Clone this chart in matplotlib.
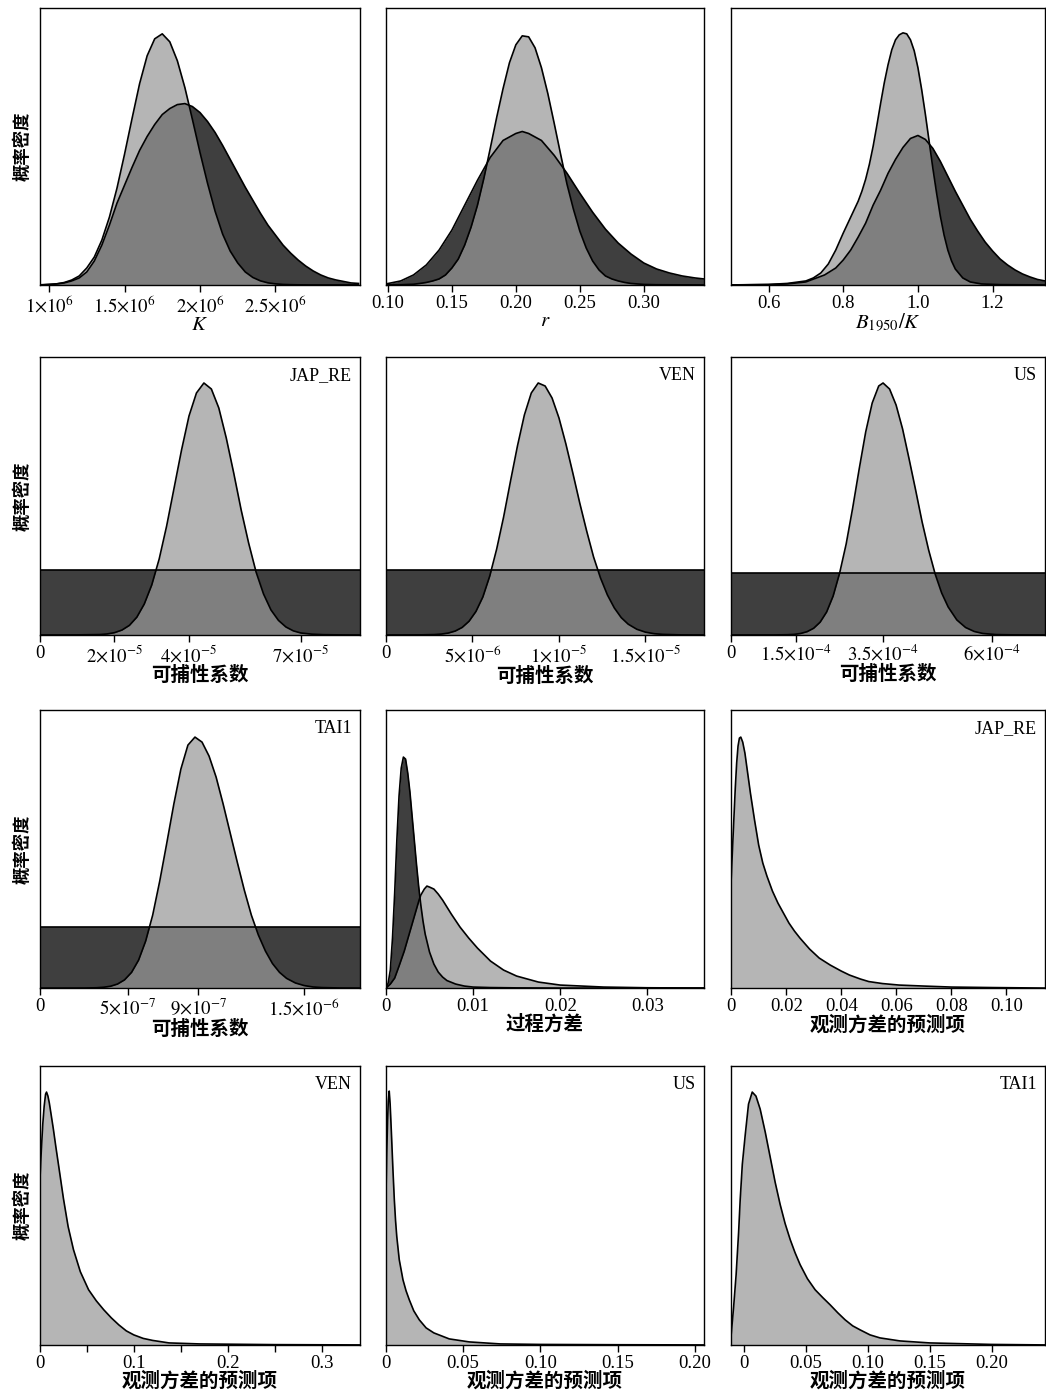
import numpy as np
import matplotlib.pyplot as plt

plt.rcParams['font.family'] = ['Liberation Serif', 'Noto Sans CJK SC']
plt.rcParams['mathtext.fontset'] = 'stix'

CJK = ['Noto Sans CJK SC', 'DejaVu Sans']
DARK = '#3f3f3f'
LIGHT = '#999999'

# relative density (same arbitrary unit in every panel)
# ---- row 1: K (x in 1e6), r, B1950/K
k_x = [0.95, 1.0, 1.05, 1.1, 1.15, 1.2, 1.25, 1.3, 1.35, 1.4, 1.45, 1.5, 1.55,
       1.6, 1.65, 1.7, 1.75, 1.8, 1.85, 1.9, 1.95, 2.0, 2.05, 2.1, 2.15, 2.2,
       2.25, 2.3, 2.35, 2.4, 2.45, 2.5, 2.55, 2.6, 2.65, 2.7, 2.75, 2.8, 2.85,
       2.9, 2.95, 3.0, 3.05]
k_post = [0.2, 0.5, 1.1, 2.4, 4.9, 9, 17, 28, 45, 68, 97, 131, 167,
          202, 230, 247, 252, 244, 225, 198, 166, 133, 102, 74, 51, 34,
          22, 13, 7.5, 4.1, 2.1, 1.1, 0.5, 0.25, 0.1, 0.05, 0, 0, 0,
          0, 0, 0, 0]
k_prior = [0, 0.5, 1, 2, 4, 7, 13, 24, 40, 60, 82, 100, 118,
           135, 149, 161, 171, 177, 181, 182, 179, 173, 164, 153, 140, 126,
           112, 98, 85, 72, 60, 50, 40, 32, 25, 19, 14, 10, 7,
           5, 3.5, 2, 1.5]

r_x = [0.0985, 0.11, 0.12, 0.125, 0.13, 0.135, 0.14, 0.145, 0.15, 0.155, 0.16,
       0.165, 0.17, 0.175, 0.18, 0.185, 0.19, 0.195, 0.20, 0.205, 0.21, 0.215,
       0.22, 0.225, 0.23, 0.235, 0.24, 0.245, 0.25, 0.255, 0.26, 0.265, 0.27,
       0.275, 0.28, 0.285, 0.29, 0.295, 0.30, 0.31, 0.347]
r_post = [0, 0.2, 0.7, 1.5, 2.5, 4, 6, 10, 17, 26, 40,
          58, 80, 107, 137, 168, 197, 223, 241, 250, 249, 238,
          218, 192, 162, 131, 101, 76, 54, 37, 24, 15, 9,
          6, 4, 2.5, 1.5, 1, 0.5, 0.2, 0]
r_prior_x = [0.0985, 0.11, 0.12, 0.13, 0.14, 0.15, 0.16, 0.17, 0.18, 0.19, 0.20,
             0.205, 0.21, 0.22, 0.23, 0.24, 0.25, 0.26, 0.27, 0.28, 0.29, 0.30,
             0.31, 0.32, 0.33, 0.34, 0.347]
r_prior = [1, 4, 10, 20, 35, 55, 80, 105, 128, 145, 152,
           154, 152, 145, 130, 112, 92, 73, 56, 42, 31, 22,
           16, 12, 9, 7, 6]

b_x = [0.5, 0.6, 0.65, 0.70, 0.72, 0.74, 0.76, 0.78, 0.80,
       0.81, 0.82, 0.83, 0.84, 0.85, 0.86, 0.87, 0.88, 0.89, 0.90,
       0.91, 0.92, 0.93, 0.94, 0.95, 0.96, 0.97, 0.98, 0.99, 1.00,
       1.01, 1.02, 1.03, 1.04, 1.05, 1.06, 1.07, 1.08, 1.09, 1.10,
       1.12, 1.14, 1.17, 1.22, 1.34]
b_post = [0, 0.5, 1.5, 4, 7, 12, 21, 35, 52,
          60, 68, 76, 84, 94, 106, 121, 139, 160, 182,
          203, 221, 236, 246, 251, 253, 252, 246, 235, 218,
          196, 171, 144, 117, 92, 69, 50, 35, 24, 16,
          7, 3, 1, 0.3, 0]
b_prior_x = [0.5, 0.6, 0.65, 0.7, 0.75, 0.78, 0.80, 0.82, 0.84, 0.86, 0.88, 0.90,
             0.92, 0.94, 0.96, 0.98, 1.00, 1.02, 1.04, 1.06, 1.08, 1.10, 1.12,
             1.14, 1.16, 1.18, 1.20, 1.22, 1.24, 1.26, 1.28, 1.30, 1.32, 1.34]
b_prior = [0, 0.3, 1, 3, 10, 17, 25, 35, 48, 62, 80, 95,
           112, 126, 138, 147, 150, 146, 137, 124, 109, 94, 80,
           66, 54, 43, 34, 26, 20, 15, 11, 8, 5.5, 4]

# ---- catchability: posterior + flat (uniform) prior level
qjap_x = [0, 1.0, 1.6, 1.8, 2.0, 2.2, 2.4, 2.6, 2.8, 3.0, 3.2, 3.4, 3.6, 3.8,
          4.0, 4.2, 4.4, 4.6, 4.8, 5.0, 5.2, 5.4, 5.6, 5.8, 6.0, 6.2, 6.4,
          6.6, 6.8, 7.0, 7.3, 7.6, 8.0, 8.59]                       # 1e-5
qjap_post = [0, 0.1, 0.4, 1, 2.3, 4.9, 9.6, 17.8, 31, 50, 76, 109, 147, 185,
             219, 242, 252, 246, 227, 197, 162, 125, 92, 63, 41, 25, 14.6,
             8, 4.1, 2, 0.8, 0.3, 0.1, 0]
qjap_prior = 65

qven_x = [0, 2.0, 2.8, 3.2, 3.6, 4.0, 4.4, 4.8, 5.2, 5.6, 6.0, 6.4, 6.8, 7.2,
          7.6, 8.0, 8.4, 8.8, 9.2, 9.6, 10.0, 10.4, 10.8, 11.2, 11.6, 12.0,
          12.4, 12.8, 13.2, 13.6, 14.0, 14.5, 15.0, 15.5, 16.0, 17.0, 18.38]  # 1e-6
qven_post = [0, 0.1, 0.4, 0.9, 1.9, 3.9, 7.5, 13.7, 23.5, 38, 59, 86, 118, 154,
             189, 220, 242, 252, 249, 237, 217, 191, 162, 132, 104, 78,
             57, 40, 27, 17.3, 10.8, 5.7, 2.8, 1.3, 0.6, 0.1, 0]
qven_prior = 65

qus_x = [0, 1.0, 1.3, 1.45, 1.6, 1.75, 1.9, 2.05, 2.2, 2.35, 2.5, 2.65, 2.8,
         2.95, 3.1, 3.25, 3.4, 3.5, 3.65, 3.8, 3.95, 4.1, 4.25, 4.4, 4.55,
         4.7, 4.85, 5.0, 5.2, 5.4, 5.6, 5.8, 6.1, 6.5, 7.23]           # 1e-4
qus_post = [0, 0.05, 0.25, 0.6, 1.5, 3.3, 6.7, 12.8, 23, 39, 62, 91, 127,
            166, 203, 232, 249, 252, 246, 230, 206, 176, 145, 113, 85,
            61, 42, 28, 15, 7.5, 3.5, 1.5, 0.4, 0.1, 0]
qus_prior = 62

qtai_x = [0, 2.5, 3.2, 3.6, 4.0, 4.4, 4.8, 5.2, 5.6, 6.0, 6.4, 6.8, 7.2, 7.6,
          8.0, 8.4, 8.8, 9.2, 9.6, 10.0, 10.4, 10.8, 11.2, 11.6, 12.0, 12.4,
          12.8, 13.2, 13.6, 14.0, 14.5, 15.0, 15.5, 16.0, 17.0, 18.17]   # 1e-7
qtai_post = [0, 0.05, 0.3, 0.8, 1.8, 4, 8.2, 15.7, 28, 47, 73, 107, 145, 184,
             219, 243, 251, 246, 232, 211, 184, 155, 126, 98, 73, 53,
             37, 24.5, 15.7, 9.7, 5.1, 2.5, 1.1, 0.5, 0.1, 0]
qtai_prior = 61

# ---- process variance (x in 1e-3)
pv_prior_x = [0, 0.25, 0.5, 0.75, 1.0, 1.25, 1.5, 1.75, 2.0, 2.25, 2.5, 2.75,
              3.0, 3.25, 3.5, 3.75, 4.0, 4.25, 4.5, 5.0, 5.5, 6.0, 6.5, 7.0,
              8.0, 9.0, 10, 12, 15, 20, 36.5]
pv_prior = [0, 5, 18, 50, 95, 148, 192, 220, 231, 229, 215, 196,
            172, 148, 124, 102, 83, 67, 54, 36, 24, 16, 11, 7.5,
            4, 2, 1, 0.5, 0.2, 0, 0]
pv_x = [0, 0.5, 1.0, 1.5, 2.1, 2.7, 3.3, 3.8, 4.0, 4.4, 4.7, 5.0, 5.5, 6.0,
        6.5, 7.0, 7.5, 8.5, 9.5, 10.5, 12, 13.5, 15, 17.5, 20, 25, 30, 36.5]
pv_post = [0, 4, 10, 22, 37, 55, 73, 88, 93, 99, 102, 101, 99, 94,
           88, 81, 74, 61, 50, 40, 27, 18, 12, 6, 3, 1, 0.3, 0]

# ---- observation variance terms (x in 1e-2)
ojap_x = [0, 0.05, 0.1, 0.15, 0.2, 0.25, 0.3, 0.35, 0.42, 0.5, 0.6, 0.7, 0.85,
          1.0, 1.15, 1.3, 1.5, 1.7, 1.9, 2.1, 2.3, 2.5, 2.85, 3.2, 3.6, 4.0,
          4.3, 4.7, 5.0, 5.5, 6.1, 7.0, 8.0, 9.5, 11.4]
ojap_post = [108, 140, 170, 200, 225, 242, 250, 251, 246, 235, 215, 195, 168,
             143, 125, 112, 97, 85, 75, 65, 57, 50, 39, 30, 23, 17,
             13, 9, 6.5, 4.5, 3, 2, 1, 0.5, 0]

oven_x = [0, 0.15, 0.3, 0.45, 0.6, 0.7, 0.85, 1.0, 1.2, 1.43, 1.7, 2.0, 2.5,
          3.0, 3.57, 4.3, 5.18, 6.0, 6.8, 7.6, 8.4, 9.2, 10.0, 11.0, 12.0,
          13.75, 17.0, 25.0, 34.1]
oven_post = [165, 195, 220, 238, 250, 252, 248, 241, 229, 215, 197, 178, 146,
             118, 95, 73, 55, 44, 35, 27, 20, 14, 10, 6.5, 4.5,
             2, 1, 0.3, 0]

ous_x = [0, 0.05, 0.1, 0.15, 0.21, 0.27, 0.35, 0.45, 0.54, 0.62, 0.7, 0.86,
         1.1, 1.3, 1.51, 1.8, 2.16, 2.6, 3.1, 4.1, 5.4, 7.4, 10, 15, 20.6]
ous_post = [150, 190, 222, 243, 253, 240, 212, 175, 145, 124, 108, 85,
            65, 54, 45, 34, 25, 17, 12, 6, 3, 1, 0.5, 0.2, 0]

otai_x = [-1.0, -0.8, -0.6, -0.4, -0.27, -0.1, 0.14, 0.4, 0.7, 1.0, 1.34, 1.75,
          2.15, 2.55, 2.95, 3.35, 3.76, 4.15, 4.56, 5.15, 5.77, 6.4, 6.98,
          7.6, 8.19, 8.8, 9.4, 10.2, 11.0, 12.6, 15.0, 20.0, 24.3]
otai_post = [10, 38, 70, 112, 145, 180, 210, 240, 252, 248, 235, 212,
             187, 162, 140, 121, 105, 92, 80, 66, 55, 47, 40,
             32, 25, 19, 15, 10, 7, 4, 2, 0.5, 0]


def draw(ax, x, post, scale, prior_x=None, prior=None, flat=None):
    if prior is not None:
        px = np.asarray(prior_x) * scale
        ax.fill_between(px, prior, color=DARK, lw=0)
        ax.plot(px, prior, color='k', lw=1.2)
    if flat is not None:
        fx = [0, x[-1] * scale * 2]
        ax.fill_between(fx, [flat, flat], color=DARK, lw=0)
        ax.plot(fx, [flat, flat], color='k', lw=1.2)
    xs = np.asarray(x) * scale
    ax.fill_between(xs, post, color=LIGHT, alpha=0.72, lw=0)
    ax.plot(xs, post, color='k', lw=1.2)


fig = plt.figure(figsize=(10.46, 13.94), dpi=100)
lefts = [0.0382, 0.369, 0.699]
widths = [0.306, 0.304, 0.300]
bottoms = [0.7956, 0.5445, 0.2912, 0.0352]
heights = [0.1987, 0.1994, 0.1994, 0.2001]
axes = [[fig.add_axes([lefts[c], bottoms[r], widths[c], heights[r]])
         for c in range(3)] for r in range(4)]

draw(axes[0][0], k_x, k_post, 1e6, k_x, k_prior)
draw(axes[0][1], r_x, r_post, 1, r_prior_x, r_prior)
draw(axes[0][2], b_x, b_post, 1, b_prior_x, b_prior)
draw(axes[1][0], qjap_x, qjap_post, 1e-5, flat=qjap_prior)
draw(axes[1][1], qven_x, qven_post, 1e-6, flat=qven_prior)
draw(axes[1][2], qus_x, qus_post, 1e-4, flat=qus_prior)
draw(axes[2][0], qtai_x, qtai_post, 1e-7, flat=qtai_prior)
draw(axes[2][1], pv_x, pv_post, 1e-3, pv_prior_x, pv_prior)
draw(axes[2][2], ojap_x, ojap_post, 1e-2)
draw(axes[3][0], oven_x, oven_post, 1e-2)
draw(axes[3][1], ous_x, ous_post, 1e-2)
draw(axes[3][2], otai_x, otai_post, 1e-2)

xlims = [[(0.94e6, 3.06e6), (0.0985, 0.347), (0.5, 1.34)],
         [(0, 8.59e-5), (0, 1.838e-5), (0, 7.23e-4)],
         [(0, 1.817e-6), (0, 0.0365), (0, 0.114)],
         [(0, 0.341), (0, 0.206), (-0.01, 0.243)]]

ticks = [[([1e6, 1.5e6, 2e6, 2.5e6],
           [r'$1{\times}10^{6}$', r'$1.5{\times}10^{6}$', r'$2{\times}10^{6}$', r'$2.5{\times}10^{6}$']),
          ([0.10, 0.15, 0.20, 0.25, 0.30], ['0.10', '0.15', '0.20', '0.25', '0.30']),
          ([0.6, 0.8, 1.0, 1.2], ['0.6', '0.8', '1.0', '1.2'])],
         [([0, 2e-5, 4e-5, 7e-5],
           ['0', r'$2{\times}10^{-5}$', r'$4{\times}10^{-5}$', r'$7{\times}10^{-5}$']),
          ([0, 5e-6, 1e-5, 1.5e-5],
           ['0', r'$5{\times}10^{-6}$', r'$1{\times}10^{-5}$', r'$1.5{\times}10^{-5}$']),
          ([0, 1.5e-4, 3.5e-4, 6e-4],
           ['0', r'$1.5{\times}10^{-4}$', r'$3.5{\times}10^{-4}$', r'$6{\times}10^{-4}$'])],
         [([0, 5e-7, 9e-7, 1.5e-6],
           ['0', r'$5{\times}10^{-7}$', r'$9{\times}10^{-7}$', r'$1.5{\times}10^{-6}$']),
          ([0, 0.01, 0.02, 0.03], ['0', '0.01', '0.02', '0.03']),
          ([0, 0.02, 0.04, 0.06, 0.08, 0.10], ['0', '0.02', '0.04', '0.06', '0.08', '0.10'])],
         [([0, 0.1, 0.2, 0.3], ['0', '0.1', '0.2', '0.3']),
          ([0, 0.05, 0.10, 0.15, 0.20], ['0', '0.05', '0.10', '0.15', '0.20']),
          ([0, 0.05, 0.10, 0.15, 0.20], ['0', '0.05', '0.10', '0.15', '0.20'])]]

xlabels = [['$K$', '$r$', r'$B_{1950}/K$'],
           ['可捕性系数', '可捕性系数', '可捕性系数'],
           ['可捕性系数', '过程方差', '观测方差的预测项'],
           ['观测方差的预测项', '观测方差的预测项', '观测方差的预测项']]

names = [[None, None, None],
         ['JAP_RE', 'VEN', 'US'],
         ['TAI1', None, 'JAP_RE'],
         ['VEN', 'US', 'TAI1']]

for r in range(4):
    for c in range(3):
        ax = axes[r][c]
        ax.set_xlim(*xlims[r][c])
        ax.set_ylim(0, 278)
        ax.set_yticks([])
        pos, labs = ticks[r][c]
        ax.set_xticks(pos)
        ax.set_xticklabels(labs)
        ax.tick_params(axis='x', direction='out', length=5, width=1,
                       labelsize=13.5, pad=2)
        for sp in ax.spines.values():
            sp.set_linewidth(1)
        if r == 0:
            ax.set_xlabel(xlabels[r][c], fontsize=15, labelpad=0)
        else:
            ax.set_xlabel(xlabels[r][c], fontsize=14, family=CJK,
                          fontweight='bold', labelpad=0)
        if names[r][c]:
            ax.text(0.975, 0.965, names[r][c], transform=ax.transAxes,
                    ha='right', va='top', fontsize=13)
        if c == 0:
            ax.set_ylabel('概率密度', family=CJK, fontsize=12.5,
                          fontweight='bold', labelpad=6)

axes[3][0].set_xticks([0.05, 0.15, 0.25], minor=True)
axes[3][0].tick_params(axis='x', which='minor', direction='out', length=5, width=1)

fig.savefig('out.png', dpi=100)
